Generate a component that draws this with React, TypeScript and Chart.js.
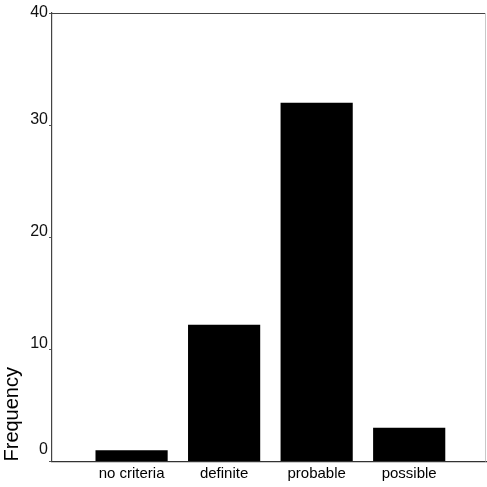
import React, { useEffect, useRef } from "react";
import { Chart, registerables } from "chart.js";

Chart.register(...registerables);

const categories = ["no criteria", "definite", "probable", "possible"];
const frequencies = [1, 12.2, 32, 3];
const yTicks = [0, 10, 20, 30, 40];

const framePlugin = {
  id: "frame",
  afterDatasetsDraw(chart: any) {
    const { ctx, chartArea } = chart;
    ctx.save();
    ctx.lineWidth = 1.2;
    ctx.strokeStyle = "#444";
    ctx.beginPath();
    ctx.moveTo(chartArea.left, chartArea.top + 0.5);
    ctx.lineTo(chartArea.right, chartArea.top + 0.5);
    ctx.stroke();
    ctx.strokeStyle = "#c8c8c8";
    ctx.lineWidth = 1;
    ctx.beginPath();
    ctx.moveTo(chartArea.right - 0.5, chartArea.top);
    ctx.lineTo(chartArea.right - 0.5, chartArea.bottom);
    ctx.stroke();
    ctx.restore();
  },
};

export default function App() {
  const ref = useRef<HTMLCanvasElement | null>(null);
  useEffect(() => {
    if (!ref.current) return;
    const chart = new Chart(ref.current, {
      type: "bar",
      data: {
        datasets: [
          {
            data: frequencies.map((v, i) => ({ x: i, y: v })),
            backgroundColor: "#000000",
            borderWidth: 0,
            barPercentage: 0.78,
            categoryPercentage: 1,
          },
        ],
      },
      options: {
        animation: false,
        responsive: false,
        layout: { padding: { top: 13, right: 1, left: 0, bottom: 0 } },
        plugins: { legend: { display: false }, tooltip: { enabled: false } },
        scales: {
          x: {
            type: "linear",
            min: -0.86,
            max: 3.83,
            offset: false,
            grid: { display: false, drawTicks: false },
            border: { display: true, color: "#333", width: 1.2 },
            afterFit: (s: any) => {
              s.height = 25.5;
            },
            ticks: {
              stepSize: 1,
              includeBounds: false,
              autoSkip: false,
              maxRotation: 0,
              padding: 3,
              color: "#000",
              font: { family: "'Liberation Sans', Arial, sans-serif", size: 15 },
              callback: (v: any) =>
                Number.isInteger(v) && categories[v] !== undefined ? categories[v] : "",
            },
          },
          y: {
            type: "linear",
            min: yTicks[0],
            max: yTicks[yTicks.length - 1],
            afterFit: (s: any) => {
              s.width = 52;
            },
            afterBuildTicks: (s: any) => {
              s.ticks = yTicks.map((v) => ({ value: v }));
            },
            grid: {
              drawOnChartArea: false,
              drawTicks: true,
              tickLength: 3,
              color: "#555",
            },
            border: { display: true, color: "#444", width: 1.2 },
            title: {
              display: true,
              text: "Frequency",
              align: "start",
              color: "#000",
              padding: 0,
              font: { family: "'Liberation Sans', Arial, sans-serif", size: 20 },
            },
            ticks: {
              padding: 1,
              color: "#111",
              font: { family: "'Liberation Sans', Arial, sans-serif", size: 16, lineHeight: 0.75 },
              callback: (v: any) =>
                v === 0 ? [String(v), "", ""] : v === 40 ? [String(v)] : [String(v), ""],
            },
          },
        },
      },
      plugins: [framePlugin],
    } as any);
    return () => chart.destroy();
  }, []);
  return (
    <div style={{ position: "fixed", left: 0, top: 0, width: 487, height: 487, background: "#fff" }}>
      <canvas ref={ref} width={487} height={487} />
    </div>
  );
}
